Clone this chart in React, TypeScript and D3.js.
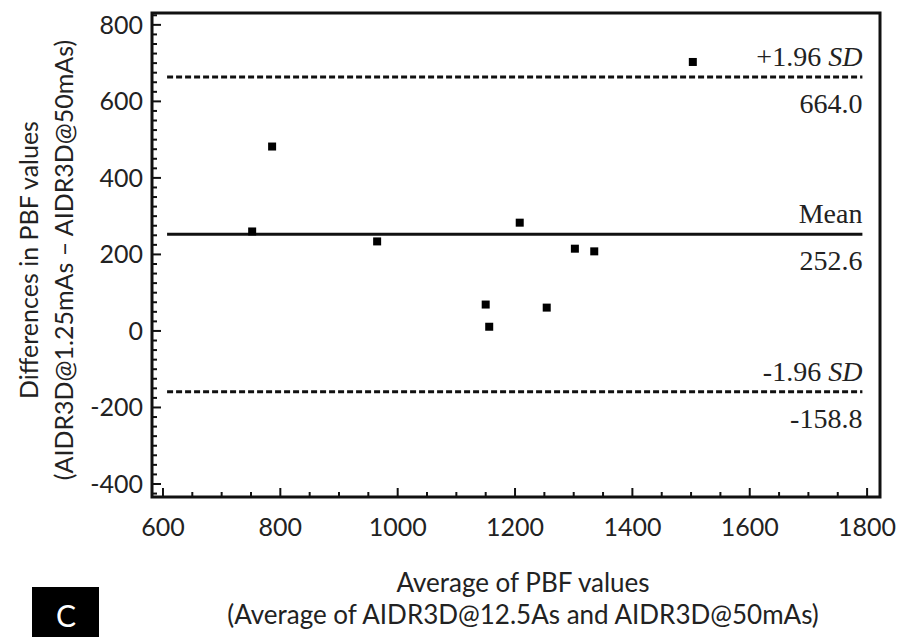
import React from "react";
import * as d3 from "d3";

// Bland–Altman data: average of the two reconstructions vs. their difference
const averages = [752, 786, 965, 1208, 1302, 1335, 1150, 1156, 1254, 1503];
const differences = [260, 482, 234, 283, 215, 208, 69, 11, 61, 703];

const xTicks = [600, 800, 1000, 1200, 1400, 1600, 1800];
const yTicks = [-400, -200, 0, 200, 400, 600, 800];

const meanDiff = 252.6;
const upperLimit = 664.0;
const lowerLimit = -158.8;
const refLineStart = 607;
const refLineEnd = 1792;

const W = 900;
const H = 637;
const frame = { left: 152, right: 880, top: 13, bottom: 497 };

export default function App() {
  const x = d3.scaleLinear().domain([581.3, 1822]).range([frame.left, frame.right]);
  const y = d3.scaleLinear().domain([831, -434]).range([frame.top, frame.bottom]);

  const xMinor = d3.range(600, 1801, 50).filter((v) => !xTicks.includes(v));
  const yMinor = d3.range(-425, 826, 25).filter((v) => !yTicks.includes(v));

  const sans = "Lato, 'Open Sans', sans-serif";
  const serif = "'Liberation Serif', 'DejaVu Serif', serif";
  const ink = "#222";
  const x0 = x(refLineStart);
  const x1 = x(refLineEnd);

  const refLines = [
    { value: upperLimit, dashed: true, top: "+1.96", italic: "SD" },
    { value: meanDiff, dashed: false, top: "Mean", italic: "" },
    { value: lowerLimit, dashed: true, top: "-1.96", italic: "SD" },
  ];

  return (
    <svg
      width={W}
      height={H}
      style={{ position: "absolute", left: 0, top: 0, background: "#fff" }}
    >
      <rect x={0} y={0} width={W} height={H} fill="#fff" />

      {/* reference lines: mean and limits of agreement */}
      {refLines.map((r) => (
        <g key={r.value}>
          <line
            x1={x0}
            x2={x1}
            y1={y(r.value)}
            y2={y(r.value)}
            stroke="#111"
            strokeWidth={3}
            strokeDasharray={r.dashed ? "6 3" : undefined}
          />
          <text
            x={x1}
            y={y(r.value) - 11}
            textAnchor="end"
            fontFamily={serif}
            fontSize={28}
            fill={ink}
          >
            {r.top}
            {r.italic && (
              <tspan fontStyle="italic">{" " + r.italic}</tspan>
            )}
          </text>
          <text
            x={x1}
            y={y(r.value) + 36}
            textAnchor="end"
            fontFamily={serif}
            fontSize={28}
            fill={ink}
          >
            {r.value.toFixed(1)}
          </text>
        </g>
      ))}

      {/* data points */}
      {averages.map((a, i) => (
        <rect
          key={i}
          x={x(a) - 4}
          y={y(differences[i]) - 4}
          width={8}
          height={8}
          fill="#000"
        />
      ))}

      {/* frame */}
      <rect
        x={frame.left}
        y={frame.top}
        width={frame.right - frame.left}
        height={frame.bottom - frame.top}
        fill="none"
        stroke="#111"
        strokeWidth={3}
      />

      {/* x ticks */}
      {xTicks.map((t) => (
        <g key={"xt" + t}>
          <line x1={x(t)} x2={x(t)} y1={frame.bottom} y2={frame.bottom - 9} stroke="#111" strokeWidth={2} />
          <text x={x(t)} y={536} textAnchor="middle" fontFamily={sans} fontSize={25} fill={ink}>
            {t}
          </text>
        </g>
      ))}
      {xMinor.map((t) => (
        <line key={"xm" + t} x1={x(t)} x2={x(t)} y1={frame.bottom} y2={frame.bottom - 5} stroke="#111" strokeWidth={2} />
      ))}

      {/* y ticks */}
      {yTicks.map((t) => (
        <g key={"yt" + t}>
          <line x1={frame.left} x2={frame.left + 9} y1={y(t)} y2={y(t)} stroke="#111" strokeWidth={2} />
          <text x={143} y={y(t) + 9} textAnchor="end" fontFamily={sans} fontSize={25} fill={ink}>
            {t}
          </text>
        </g>
      ))}
      {yMinor.map((t) => (
        <line key={"ym" + t} x1={frame.left} x2={frame.left + 5} y1={y(t)} y2={y(t)} stroke="#111" strokeWidth={2} />
      ))}

      {/* y axis title */}
      <g transform="translate(0,260) rotate(-90)">
        <text x={0} y={38} textAnchor="middle" fontFamily={sans} fontSize={25} fill={ink}>
          Differences in PBF values
        </text>
        <text x={0} y={73} textAnchor="middle" fontFamily={sans} fontSize={25} fill={ink}>
          (AIDR3D@1.25mAs – AIDR3D@50mAs)
        </text>
      </g>

      {/* x axis title */}
      <text x={523} y={592} textAnchor="middle" fontFamily={sans} fontSize={26} fill={ink}>
        Average of PBF values
      </text>
      <text x={523} y={624} textAnchor="middle" fontFamily={sans} fontSize={26} fill={ink}>
        (Average of AIDR3D@12.5As and AIDR3D@50mAs)
      </text>

      {/* panel letter */}
      <rect x={32} y={587} width={67} height={60} fill="#000" />
      <text x={66} y={627} textAnchor="middle" fontFamily={sans} fontSize={30} fill="#fff">
        C
      </text>
    </svg>
  );
}
